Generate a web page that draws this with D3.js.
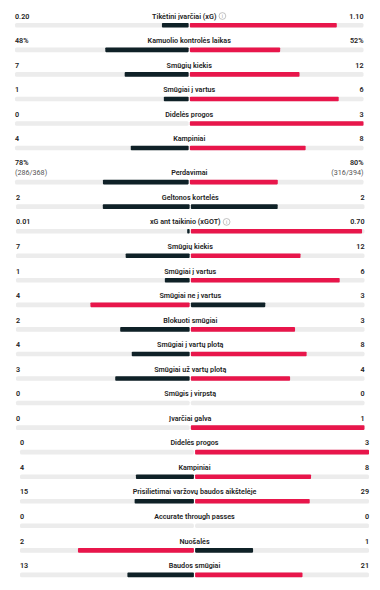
<!DOCTYPE html>
<html>
<head>
<meta charset="utf-8">
<script src="https://cdn.jsdelivr.net/npm/d3@7"></script>
<style>
  html, body { margin: 0; padding: 0; background: #fff; }
  svg { display: block; }
  text { font-family: Roboto, "Noto Sans", sans-serif; }
</style>
</head>
<body>
<svg id="chart" width="380" height="590"></svg>
<script>
// ---- data ----
const labels = [
  "Tikėtini įvarčiai (xG)", "Kamuolio kontrolės laikas", "Smūgių kiekis", "Smūgiai į vartus",
  "Didelės progos", "Kampiniai", "Perdavimai", "Geltonos kortelės", "xG ant taikinio (xGOT)",
  "Smūgių kiekis", "Smūgiai į vartus", "Smūgiai ne į vartus", "Blokuoti smūgiai",
  "Smūgiai į vartų plotą", "Smūgiai už vartų plotą", "Smūgis į virpstą", "Įvarčiai galva",
  "Didelės progos", "Kampiniai", "Prisilietimai varžovų baudos aikštelėje",
  "Accurate through passes", "Nuošalės", "Baudos smūgiai"
];
const homeValues = [0.20, 48, 7, 1, 0, 4, 78, 2, 0.01, 7, 1, 4, 2, 4, 3, 0, 0, 0, 4, 15, 0, 2, 13];
const awayValues = [1.10, 52, 12, 6, 3, 8, 80, 2, 0.70, 12, 6, 3, 3, 8, 4, 0, 1, 3, 8, 29, 0, 1, 21];
const homeLabels = ["0.20", "48%", "7", "1", "0", "4", "78%", "2", "0.01", "7", "1", "4", "2", "4", "3", "0", "0", "0", "4", "15", "0", "2", "13"];
const awayLabels = ["1.10", "52%", "12", "6", "3", "8", "80%", "2", "0.70", "12", "6", "3", "3", "8", "4", "0", "1", "3", "8", "29", "0", "1", "21"];
const homeSubLabels = { 6: "(286/368)" };
const awaySubLabels = { 6: "(316/394)" };
const infoRows = [0, 8];

// ---- layout ----
const svg = d3.select("#chart");
const RED = "#e8164b", DARK = "#0f2127", TRACK = "#ececec", TXT = "#222";
// horizontal frames for the three stacked sections of the page
function frame(i) {
  if (i <= 6) return { left: 15, right: 363.5 };
  if (i <= 16) return { left: 16, right: 364.5 };
  return { left: 20, right: 369 };
}
const rowY = d3.scaleLinear().domain([0, 1]).range([25.3, 25.3 + 24.55]);
function barY(i) { return rowY(i) + (i >= 6 ? 9.5 : 0); }
const barH = 4.6, gap = 0.6;

labels.forEach((lab, i) => {
  const f = frame(i);
  const cx = (f.left + f.right) / 2;
  const y = barY(i);
  const g = svg.append("g");
  const total = homeValues[i] + awayValues[i];
  const half = cx - gap - f.left;
  const xl = d3.scaleLinear().domain([0, 1]).range([cx - gap, f.left]);
  const xr = d3.scaleLinear().domain([0, 1]).range([cx + gap, f.right]);
  // tracks
  g.append("rect").attr("x", f.left).attr("y", y - barH / 2).attr("width", half).attr("height", barH)
    .attr("rx", 1.5).attr("fill", TRACK);
  g.append("rect").attr("x", cx + gap).attr("y", y - barH / 2).attr("width", f.right - cx - gap).attr("height", barH)
    .attr("rx", 1.5).attr("fill", TRACK);
  const hv = homeValues[i], av = awayValues[i];
  const hc = hv > av ? RED : DARK, ac = av > hv ? RED : DARK;
  if (total > 0 && hv > 0) {
    const x0 = xl(hv / total);
    g.append("rect").attr("x", x0).attr("y", y - barH / 2).attr("width", (cx - gap) - x0).attr("height", barH)
      .attr("rx", 0.8).attr("fill", hc);
  }
  if (total > 0 && av > 0) {
    const x1 = xr(av / total);
    g.append("rect").attr("x", cx + gap).attr("y", y - barH / 2).attr("width", x1 - (cx + gap)).attr("height", barH)
      .attr("rx", 0.8).attr("fill", ac);
  }
  // texts
  const base = y - 6.8;
  const hasSub = homeSubLabels[i] !== undefined;
  const labelT = g.append("text").attr("x", cx).attr("y", base).attr("text-anchor", "middle")
    .attr("font-size", 7.2).attr("font-weight", 600).attr("fill", TXT).text(lab);
  if (infoRows.includes(i)) {
    const w = labelT.node().getComputedTextLength();
    labelT.attr("x", cx - 5);
    const ix = cx - 5 + w / 2 + 6, iy = base - 2.5;
    g.append("circle").attr("cx", ix).attr("cy", iy).attr("r", 3.4).attr("fill", "none")
      .attr("stroke", "#9a9a9a").attr("stroke-width", 0.6);
    g.append("text").attr("x", ix).attr("y", iy + 2).attr("text-anchor", "middle")
      .attr("font-size", 5).attr("fill", "#9a9a9a").text("i");
  }
  const vBase = hasSub ? base - 10 : base;
  g.append("text").attr("x", f.left).attr("y", vBase).attr("font-size", 7.2).attr("font-weight", 600)
    .attr("fill", TXT).text(homeLabels[i]);
  g.append("text").attr("x", f.right).attr("y", vBase).attr("text-anchor", "end").attr("font-size", 7.2)
    .attr("font-weight", 600).attr("fill", TXT).text(awayLabels[i]);
  if (hasSub) {
    g.append("text").attr("x", f.left).attr("y", base).attr("font-size", 7.2)
      .attr("fill", "#555").text(homeSubLabels[i]);
    g.append("text").attr("x", f.right).attr("y", base).attr("text-anchor", "end").attr("font-size", 7.2)
      .attr("fill", "#555").text(awaySubLabels[i]);
  }
});
</script>
</body>
</html>
